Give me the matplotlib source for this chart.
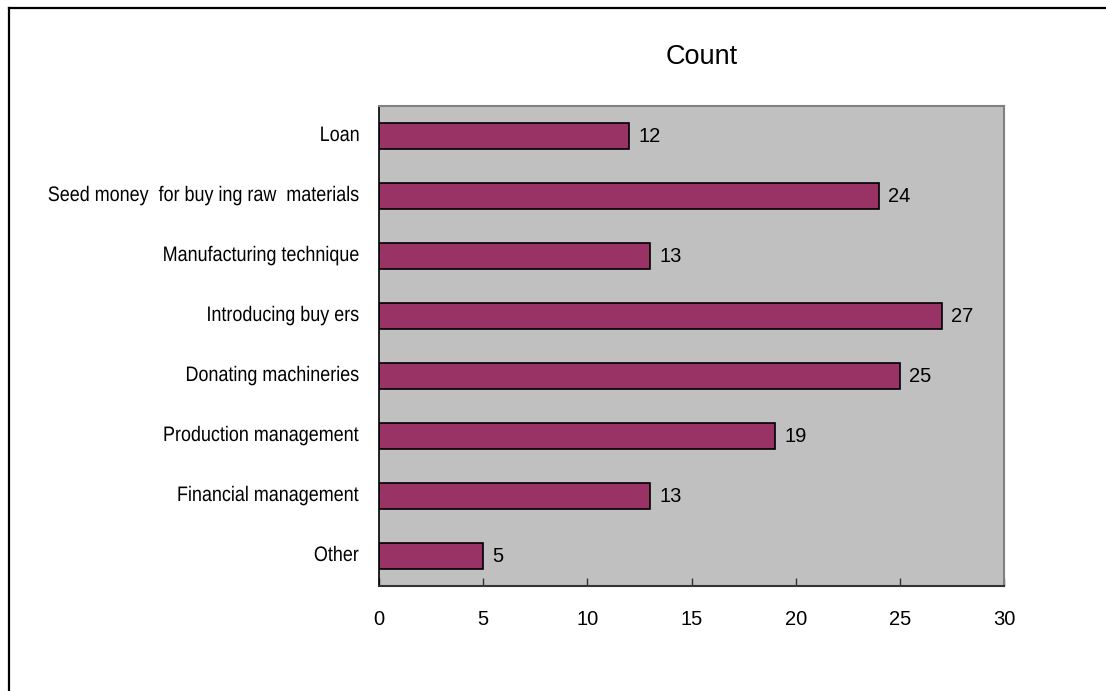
import matplotlib
matplotlib.use("Agg")
import matplotlib.pyplot as plt
from matplotlib.lines import Line2D
from matplotlib.textpath import TextPath
from matplotlib.patches import PathPatch
from matplotlib.font_manager import FontProperties
from matplotlib.transforms import Affine2D, IdentityTransform

categories = [
    "Loan",
    "Seed money  for buy ing raw  materials",
    "Manufacturing technique",
    "Introducing buy ers",
    "Donating machineries",
    "Production management",
    "Financial management",
    "Other",
]
counts = [12, 24, 13, 27, 25, 19, 13, 5]
xticks = [0, 5, 10, 15, 20, 25, 30]
title = "Count"

W, H = 1106, 691
fig = plt.figure(figsize=(W / 100, H / 100), dpi=100)
fig.patch.set_facecolor("white")

# outer chart frame (left and top edges visible)
fig.add_artist(Line2D([9 / W, 9 / W], [-0.1, 1 - 7.5 / H], transform=fig.transFigure,
                      color="black", linewidth=1.6))
fig.add_artist(Line2D([9 / W, 1.1], [1 - 7.5 / H, 1 - 7.5 / H], transform=fig.transFigure,
                      color="black", linewidth=1.6))

left, right, top, bottom = 379, 1004, 106, 586
ax = fig.add_axes([left / W, (H - bottom) / H, (right - left) / W, (bottom - top) / H])
ax.set_facecolor("#C0C0C0")

ypos = list(range(len(categories)))
ax.barh(ypos, counts, height=0.43, color="#993366", edgecolor="black", linewidth=1.2)
ax.set_ylim(len(categories) - 0.5, -0.5)
ax.set_xlim(0, 30)

# category labels: condensed sans text drawn as paths, right-aligned to the axis
ax.set_yticks(ypos)
ax.set_yticklabels([])
ax.tick_params(axis="y", length=0)
label_prop = FontProperties(family="Liberation Sans")
em_px = 21.0
squeeze = 0.855
label_right_px = left - 20.5
for y, name in zip(ypos, categories):
    tp = TextPath((0, 0), name, size=em_px, prop=label_prop)
    ext = tp.get_extents()
    yc = ax.transData.transform((0, y))[1]
    tr = (Affine2D()
          .translate(-ext.x1, 0)
          .scale(squeeze, 1.0)
          .translate(label_right_px, yc - 5.0))
    fig.add_artist(PathPatch(tr.transform_path(tp), facecolor="black", edgecolor="none",
                             transform=IdentityTransform()))

ax.set_xticks(xticks)
ax.set_xticklabels([str(t) for t in xticks], fontsize=14.5, family=["Liberation Sans", "DejaVu Sans"])
ax.tick_params(axis="x", direction="in", length=6, width=1, color="#333333", pad=17)

for y, v in zip(ypos, counts):
    ax.text(v + 0.45, y, str(v), va="center", ha="left", fontsize=14.5,
            family=["Liberation Sans", "DejaVu Sans"])

for side in ("top", "right"):
    ax.spines[side].set_color("#808080")
    ax.spines[side].set_linewidth(1.5)
ax.spines["left"].set_color("black")
ax.spines["left"].set_linewidth(1.2)
ax.spines["bottom"].set_color("#333333")
ax.spines["bottom"].set_linewidth(1.5)

fig.text(701.5 / W, 1 - 57 / H, title, ha="center", va="center", fontsize=19.5,
         family=["Liberation Sans", "DejaVu Sans"])

fig.savefig("out.png", dpi=100)
